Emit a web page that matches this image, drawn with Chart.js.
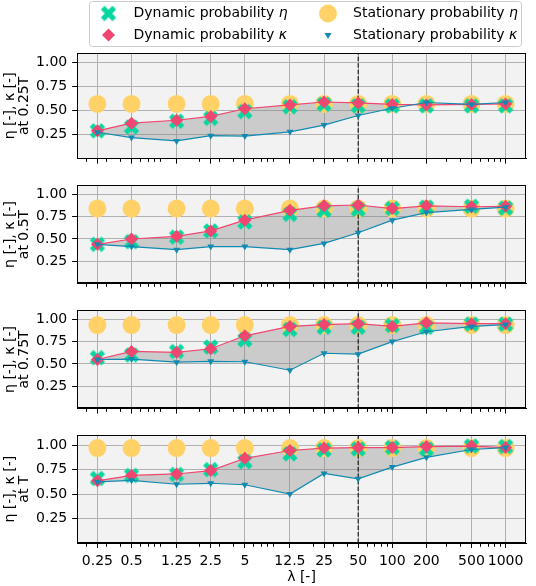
<!DOCTYPE html>
<html>
<head>
<meta charset="utf-8">
<title>Dynamic vs stationary probability</title>
<script src="https://cdn.jsdelivr.net/npm/chart.js@4.4.1/dist/chart.umd.min.js"></script>
<style>
    body { margin: 0; background: #ffffff; }
    #wrap { position: relative; width: 536px; height: 586px; }
    #wrap canvas { position: absolute; left: 0; }
</style>
</head>
<body>
<div id="wrap">
    <canvas id="panel0" width="536" height="172" style="top:0px"></canvas>
    <canvas id="panel1" width="536" height="125" style="top:172px"></canvas>
    <canvas id="panel2" width="536" height="125" style="top:297px"></canvas>
    <canvas id="panel3" width="536" height="164" style="top:422px"></canvas>
</div>
<script>
// x categories (lambda) and their tick labels
const lambdas = [0.25, 0.5, 1.25, 2.5, 5, 12.5, 25, 50, 100, 200, 500, 1000];
const lambdaLabels = ['0.25', '0.5', '1.25', '2.5', '5', '12.5', '25', '50', '100', '200', '500', '1000'];
const minorLambdas = [0.2, 0.3, 0.4, 0.6, 0.7, 0.8, 0.9, 2, 3, 4, 6, 7, 8, 9,
    20, 30, 40, 60, 70, 80, 90, 300, 400, 600, 700, 800, 900];
const yTicks = [0.25, 0.5, 0.75, 1.0];
const yRange = [0, 1.1];
const thresholdLambda = 50;

const panelLabels = ['at 0.25T', 'at 0.5T', 'at 0.75T', 'at T'];
const seriesLabels = ['Dynamic probability η', 'Dynamic probability κ', 'Stationary probability η', 'Stationary probability κ'];

// at 0.25T
const dynEta1 = [0.29, 0.33, 0.39, 0.42, 0.49, 0.54, 0.565, 0.55, 0.55, 0.55, 0.55, 0.55];
const dynKappa1 = [0.29, 0.37, 0.40, 0.44, 0.52, 0.56, 0.59, 0.58, 0.565, 0.56, 0.565, 0.57];
const statEta1 = [0.57, 0.57, 0.57, 0.57, 0.57, 0.57, 0.57, 0.57, 0.57, 0.57, 0.57, 0.57];
const statKappa1 = [0.275, 0.22, 0.185, 0.24, 0.235, 0.28, 0.35, 0.45, 0.525, 0.585, 0.565, 0.585];

// at 0.5T
const dynEta2 = [0.44, 0.47, 0.52, 0.59, 0.69, 0.775, 0.82, 0.83, 0.84, 0.855, 0.865, 0.845];
const dynKappa2 = [0.44, 0.50, 0.53, 0.59, 0.71, 0.82, 0.87, 0.88, 0.84, 0.87, 0.86, 0.865];
const statEta2 = [0.84, 0.84, 0.84, 0.84, 0.84, 0.84, 0.84, 0.84, 0.84, 0.84, 0.84, 0.84];
const statKappa2 = [0.44, 0.415, 0.38, 0.415, 0.415, 0.38, 0.45, 0.57, 0.71, 0.795, 0.83, 0.855];

// at 0.75T
const dynEta3 = [0.57, 0.60, 0.64, 0.69, 0.77, 0.885, 0.91, 0.91, 0.93, 0.91, 0.945, 0.945];
const dynKappa3 = [0.55, 0.64, 0.63, 0.67, 0.815, 0.92, 0.94, 0.95, 0.92, 0.96, 0.95, 0.95];
const statEta3 = [0.935, 0.935, 0.935, 0.935, 0.935, 0.935, 0.935, 0.935, 0.935, 0.935, 0.935, 0.935];
const statKappa3 = [0.55, 0.555, 0.52, 0.53, 0.525, 0.43, 0.62, 0.61, 0.75, 0.86, 0.92, 0.94];

// at T
const dynEta4 = [0.66, 0.69, 0.70, 0.75, 0.83, 0.91, 0.95, 0.96, 0.975, 0.96, 0.99, 0.985];
const dynKappa4 = [0.635, 0.69, 0.705, 0.74, 0.865, 0.945, 0.97, 0.975, 0.975, 0.985, 0.99, 0.975];
const statEta4 = [0.97, 0.97, 0.97, 0.97, 0.97, 0.97, 0.97, 0.97, 0.97, 0.97, 0.97, 0.97];
const statKappa4 = [0.625, 0.64, 0.60, 0.61, 0.595, 0.50, 0.71, 0.655, 0.775, 0.875, 0.955, 0.975];

const green = '#06d6a0';
const pink = '#ef476f';
const yellow = '#ffd166';
const blue = '#118ab2';
const fillGrey = 'rgba(128,128,128,0.34)';
const gridGrey = '#b0b0b0';
const plotBg = '#f2f2f2';
const fontFamily = "'DejaVu Sans', sans-serif";

Chart.defaults.font.family = fontFamily;
Chart.defaults.font.size = 14;
Chart.defaults.color = '#000';

// 5% margins on a log axis, like matplotlib
const logSpan = Math.log10(lambdas[lambdas.length - 1]) - Math.log10(lambdas[0]);
const xMin = Math.pow(10, Math.log10(lambdas[0]) - 0.05 * logSpan);
const xMax = Math.pow(10, Math.log10(lambdas[lambdas.length - 1]) + 0.05 * logSpan);

const allTicks = lambdas.map(v => ({value: v, minor: false}))
    .concat(minorLambdas.map(v => ({value: v, minor: true})))
    .sort((a, b) => a.value - b.value);

// filled "X" marker
function makeXMarker() {
    const c = document.createElement('canvas');
    c.width = 18;
    c.height = 18;
    const g = c.getContext('2d');
    g.strokeStyle = green;
    g.lineWidth = 5.2;
    g.lineCap = 'butt';
    g.beginPath();
    g.moveTo(3.2, 3.2); g.lineTo(14.8, 14.8);
    g.moveTo(14.8, 3.2); g.lineTo(3.2, 14.8);
    g.stroke();
    return c;
}
const xMarker = makeXMarker();

function pts(ys) {
    return lambdas.map((x, i) => ({x: x, y: ys[i]}));
}

const framePlugin = {
    id: 'frame',
    beforeDraw(chart) {
        const a = chart.chartArea;
        const ctx = chart.ctx;
        ctx.save();
        ctx.fillStyle = plotBg;
        ctx.fillRect(a.left, a.top, a.right - a.left, a.bottom - a.top);
        ctx.restore();
    },
    afterDraw(chart) {
        const a = chart.chartArea;
        const ctx = chart.ctx;
        ctx.save();
        ctx.strokeStyle = '#000';
        ctx.lineWidth = 1;
        ctx.strokeRect(Math.round(a.left) + 0.5, Math.round(a.top) + 0.5,
            Math.round(a.right - a.left) - 1, Math.round(a.bottom - a.top) - 1);
        ctx.restore();
    }
};

// matplotlib-like legend box with two columns
const legendPlugin = {
    id: 'boxLegend',
    afterDraw(chart) {
        const ctx = chart.ctx;
        ctx.save();
        ctx.beginPath();
        ctx.roundRect(89.5, 1.5, 432, 45, 3);
        ctx.fillStyle = 'rgba(255,255,255,0.8)';
        ctx.fill();
        ctx.strokeStyle = '#cccccc';
        ctx.lineWidth = 1;
        ctx.stroke();

        const cols = [108.5, 328];
        const rows = [13.5, 35];
        const textOffset = 25;
        // matplotlib fills the columns first
        const slots = [[0, 0], [0, 1], [1, 0], [1, 1]];
        seriesLabels.forEach((label, i) => {
            const mx = cols[slots[i][0]];
            const my = rows[slots[i][1]];
            drawMarker(ctx, i, mx, my);
            const plain = label.slice(0, -1);
            const greek = label.slice(-1);
            ctx.fillStyle = '#000';
            ctx.textBaseline = 'middle';
            ctx.textAlign = 'left';
            ctx.font = '14px ' + fontFamily;
            ctx.fillText(plain, mx + textOffset, my);
            const w = ctx.measureText(plain).width;
            ctx.font = 'italic 14px ' + fontFamily;
            ctx.fillText(greek, mx + textOffset + w, my);
        });
        ctx.restore();
    }
};

function drawMarker(ctx, i, x, y) {
    ctx.save();
    if (i === 0) {
        ctx.drawImage(xMarker, x - 9, y - 9);
    } else if (i === 1) {
        ctx.fillStyle = pink;
        ctx.beginPath();
        ctx.moveTo(x, y - 6.5); ctx.lineTo(x + 6.5, y); ctx.lineTo(x, y + 6.5); ctx.lineTo(x - 6.5, y);
        ctx.closePath();
        ctx.fill();
    } else if (i === 2) {
        ctx.fillStyle = yellow;
        ctx.beginPath();
        ctx.arc(x, y, 9, 0, Math.PI * 2);
        ctx.fill();
    } else {
        ctx.fillStyle = blue;
        ctx.beginPath();
        ctx.moveTo(x - 3.5, y - 2); ctx.lineTo(x + 3.5, y - 2); ctx.lineTo(x, y + 4);
        ctx.closePath();
        ctx.fill();
    }
    ctx.restore();
}

function panelConfig(idx, dynEta, dynKappa, statEta, statKappa, padTop) {
    const isBottom = idx === 3;
    return {
        type: 'line',
        data: {
            datasets: [
                {
                    label: seriesLabels[0],
                    data: pts(dynEta),
                    showLine: false,
                    pointStyle: xMarker,
                    pointRadius: 9,
                    order: 3
                },
                {
                    label: seriesLabels[1],
                    data: pts(dynKappa),
                    borderColor: pink,
                    borderWidth: 1.2,
                    pointStyle: 'rectRot',
                    pointRadius: 6.5,
                    pointBackgroundColor: pink,
                    pointBorderWidth: 0,
                    fill: {target: 3},
                    backgroundColor: fillGrey,
                    order: 2
                },
                {
                    label: seriesLabels[2],
                    data: pts(statEta),
                    showLine: false,
                    pointStyle: 'circle',
                    pointRadius: 9,
                    pointBackgroundColor: yellow,
                    pointBorderWidth: 0,
                    order: 5
                },
                {
                    label: seriesLabels[3],
                    data: pts(statKappa),
                    borderColor: blue,
                    borderWidth: 1.2,
                    pointStyle: 'triangle',
                    pointRotation: 180,
                    pointRadius: 4,
                    pointBackgroundColor: blue,
                    pointBorderWidth: 0,
                    order: 1
                },
                {
                    label: 'threshold',
                    data: [{x: thresholdLambda, y: yRange[0]}, {x: thresholdLambda, y: yRange[1]}],
                    borderColor: '#000',
                    borderWidth: 1,
                    borderDash: [4.5, 2],
                    pointRadius: 0,
                    order: 4
                }
            ]
        },
        options: {
            responsive: false,
            animation: false,
            events: [],
            layout: {padding: {top: padTop, right: 1, bottom: 0, left: 0}},
            plugins: {
                legend: {display: false},
                tooltip: {enabled: false},
                filler: {drawTime: 'beforeDatasetsDraw'}
            },
            scales: {
                x: {
                    type: 'logarithmic',
                    min: xMin,
                    max: xMax,
                    bounds: 'data',
                    afterBuildTicks: (scale) => {
                        scale.ticks = allTicks.map(t => ({value: t.value, minor: t.minor}));
                    },
                    afterFit: (scale) => {
                        scale.height = isBottom ? 43 : 5;
                    },
                    ticks: {
                        display: isBottom,
                        autoSkip: false,
                        maxRotation: 0,
                        minRotation: 0,
                        padding: 4.9,
                        color: '#000',
                        callback: (value, index, ticks) => {
                            if (ticks[index].minor) return '';
                            return lambdaLabels[lambdas.indexOf(value)];
                        }
                    },
                    grid: {
                        color: (ctx) => (ctx.tick && ctx.tick.minor) ? 'rgba(0,0,0,0)' : gridGrey,
                        lineWidth: 1,
                        drawTicks: true,
                        tickLength: 4.9,
                        tickColor: '#000',
                        tickWidth: 1,
                        tickBorderDash: (ctx) => (ctx.tick && ctx.tick.minor) ? [2.8, 10] : []
                    },
                    border: {display: true, color: '#000', width: 1},
                    title: {
                        display: isBottom,
                        text: 'λ [-]',
                        color: '#000',
                        padding: {top: 0, bottom: 0}
                    }
                },
                y: {
                    type: 'linear',
                    min: yRange[0],
                    max: yRange[1],
                    afterBuildTicks: (scale) => {
                        scale.ticks = yTicks.map(v => ({value: v}));
                    },
                    afterFit: (scale) => {
                        scale.width = 77;
                    },
                    ticks: {
                        padding: 4.9,
                        color: '#000',
                        callback: (value) => value.toFixed(2)
                    },
                    grid: {
                        color: gridGrey,
                        lineWidth: 1,
                        tickLength: 4.9,
                        tickColor: '#000'
                    },
                    border: {display: true, color: '#000', width: 1},
                    title: {
                        display: true,
                        text: ['η [-], κ [-]', panelLabels[idx]],
                        color: '#000',
                        font: {size: 14, lineHeight: 1.05},
                        padding: {top: 2.6, bottom: 0}
                    }
                }
            }
        },
        plugins: idx === 0 ? [framePlugin, legendPlugin] : [framePlugin]
    };
}

new Chart(document.getElementById('panel0'), panelConfig(0, dynEta1, dynKappa1, statEta1, statKappa1, 53));
new Chart(document.getElementById('panel1'), panelConfig(1, dynEta2, dynKappa2, statEta2, statKappa2, 6));
new Chart(document.getElementById('panel2'), panelConfig(2, dynEta3, dynKappa3, statEta3, statKappa3, 6));
new Chart(document.getElementById('panel3'), panelConfig(3, dynEta4, dynKappa4, statEta4, statKappa4, 7));
</script>
</body>
</html>
